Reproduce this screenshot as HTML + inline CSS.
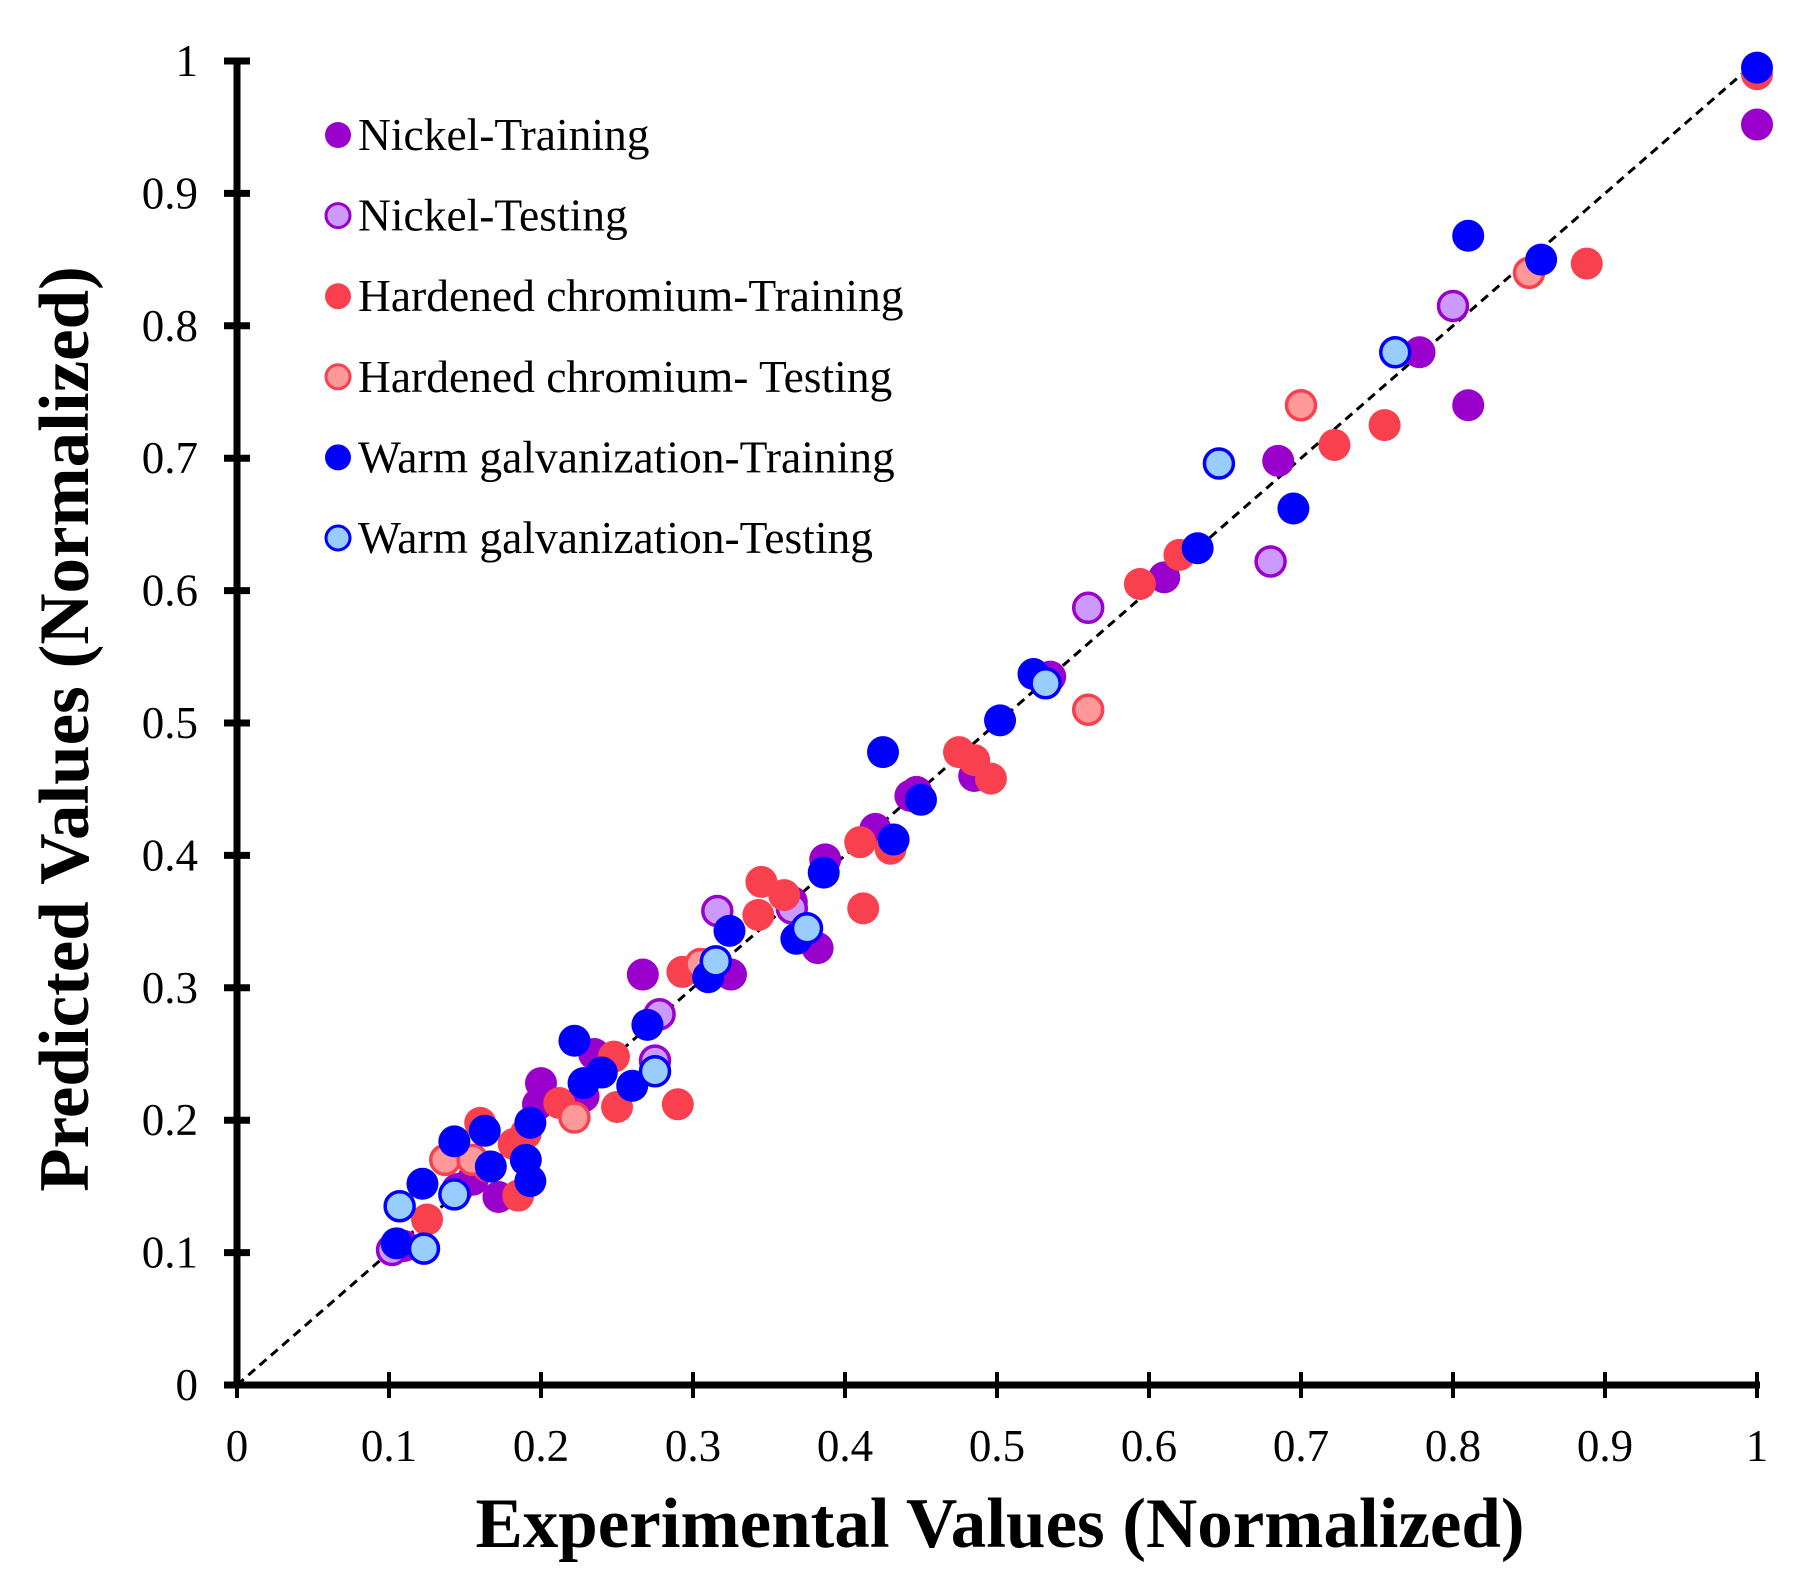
<!DOCTYPE html>
<html><head><meta charset="utf-8"><style>
html,body{margin:0;padding:0;background:#fff;}
svg{display:block;font-family:"Liberation Serif",serif;}
</style></head><body>
<svg id="chart" width="1805" height="1592" viewBox="0 0 1805 1592" xmlns="http://www.w3.org/2000/svg">
<rect width="1805" height="1592" fill="#fff"/>
<g id="grid"></g>
<g id="marks"></g>
<g id="legend"></g>
<text transform="translate(88,729) rotate(-90)" text-anchor="middle" font-size="71" font-weight="bold">Predicted Values (Normalized)</text>
<text x="1000" y="1547" text-anchor="middle" font-size="71" font-weight="bold">Experimental Values (Normalized)</text>
</svg>
<script>
const ticks=[0,0.1,0.2,0.3,0.4,0.5,0.6,0.7,0.8,0.9,1];
const tickLabels=["0","0.1","0.2","0.3","0.4","0.5","0.6","0.7","0.8","0.9","1"];
const seriesNames=["Nickel-Training","Nickel-Testing","Hardened chromium-Training","Hardened chromium- Testing","Warm galvanization-Training","Warm galvanization-Testing"];
const nickelTrainX=[1.0,0.81,0.778,0.685,0.61,0.535,0.485,0.447,0.443,0.42,0.387,0.382,0.325,0.267,0.235,0.228,0.2,0.198,0.172,0.155,0.11,0.103,0.145,0.365];
const nickelTrainY=[0.952,0.74,0.78,0.698,0.61,0.535,0.46,0.448,0.445,0.42,0.397,0.33,0.31,0.31,0.25,0.218,0.228,0.212,0.142,0.155,0.105,0.103,0.148,0.365];
const nickelTestX=[0.8,0.68,0.56,0.316,0.278,0.275,0.102,0.365];
const nickelTestY=[0.815,0.622,0.587,0.358,0.28,0.245,0.102,0.36];
const chromTrainX=[1.0,0.888,0.755,0.722,0.62,0.594,0.496,0.485,0.475,0.43,0.41,0.412,0.345,0.36,0.343,0.293,0.29,0.25,0.248,0.212,0.19,0.182,0.185,0.16,0.125,0.165];
const chromTrainY=[0.99,0.847,0.725,0.71,0.627,0.605,0.458,0.472,0.478,0.405,0.41,0.36,0.38,0.37,0.355,0.312,0.212,0.21,0.248,0.213,0.19,0.182,0.143,0.198,0.125,0.165];
const chromTestX=[0.85,0.7,0.56,0.305,0.222,0.137,0.155];
const chromTestY=[0.84,0.74,0.51,0.318,0.202,0.17,0.17];
const galvTrainX=[1.0,0.858,0.81,0.695,0.632,0.524,0.502,0.425,0.45,0.432,0.386,0.324,0.368,0.31,0.27,0.222,0.26,0.24,0.228,0.193,0.19,0.193,0.163,0.167,0.143,0.122,0.105];
const galvTrainY=[0.995,0.85,0.868,0.662,0.632,0.537,0.502,0.478,0.442,0.412,0.387,0.343,0.337,0.308,0.272,0.26,0.226,0.236,0.228,0.198,0.17,0.154,0.192,0.165,0.184,0.152,0.107];
const galvTestX=[0.762,0.646,0.532,0.375,0.315,0.275,0.107,0.143,0.123];
const galvTestY=[0.78,0.696,0.53,0.345,0.32,0.237,0.135,0.144,0.103];

const NS="http://www.w3.org/2000/svg";
const X0=237,X1=1757,Y0=1385,Y1=61;
function sx(v){return X0+(X1-X0)*v;}
function sy(v){return Y0-(Y0-Y1)*v;}
function mk(tag,attrs,parent){const e=document.createElementNS(NS,tag);for(const k in attrs)e.setAttribute(k,attrs[k]);parent.appendChild(e);return e;}
const grid=document.getElementById('grid'),marks=document.getElementById('marks'),legend=document.getElementById('legend');

const diag=mk('line',{x1:sx(0),y1:sy(0),x2:sx(1),y2:sy(1),stroke:'#000','stroke-width':3,'stroke-dasharray':'9,6'},grid);



const ya=mk('line',{x1:X0,y1:Y1,x2:X0,y2:Y0,stroke:'#000','stroke-width':7},grid);


const xa=mk('line',{x1:X0-3,y1:Y0,x2:X1+3,y2:Y0,stroke:'#000','stroke-width':7},grid);



ticks.forEach((t,i)=>{
  const yt=mk('line',{x1:X0-13,y1:sy(t),x2:X0+13,y2:sy(t),stroke:'#000','stroke-width':7},grid);
  
  
  const yl=mk('text',{x:198,y:sy(t)+15,'text-anchor':'end','font-size':45},grid);
  yl.textContent=tickLabels[i];
  
  
  const xt=mk('line',{x1:sx(t),y1:Y0-13,x2:sx(t),y2:Y0+13,stroke:'#000','stroke-width':4},grid);
  
  
  const xl=mk('text',{x:sx(t),y:1461,'text-anchor':'middle','font-size':45},grid);
  xl.textContent=tickLabels[i];
  
  
});

const styles=[
 {fill:'#9900CC',stroke:'none',sw:0},
 {fill:'#CC99FF',stroke:'#9900CC',sw:3.5},
 {fill:'#F8404E',stroke:'none',sw:0},
 {fill:'#FF9999',stroke:'#F8404E',sw:3.5},
 {fill:'#0000FF',stroke:'none',sw:0},
 {fill:'#99CCFF',stroke:'#0000FF',sw:3.5}];
const allX=[nickelTrainX,nickelTestX,chromTrainX,chromTestX,galvTrainX,galvTestX];
const allY=[nickelTrainY,nickelTestY,chromTrainY,chromTestY,galvTrainY,galvTestY];
const keys=['nickel-training','nickel-testing','chromium-training','chromium-testing','galvanization-training','galvanization-testing'];
allX.forEach((xs,s)=>{
  const st=styles[s];
  xs.forEach((xv,i)=>{
    const c=mk('circle',{cx:sx(xv),cy:sy(allY[s][i]),r:st.sw?14.5:16,fill:st.fill,stroke:st.stroke,'stroke-width':st.sw},marks);
    
    
  });
  const ly=135+s*80.6;
  const lc=mk('circle',{cx:338,cy:ly,r:st.sw?12:13,fill:st.fill,stroke:st.stroke,'stroke-width':st.sw?3:0},legend);
  
  
  const lt=mk('text',{x:358,y:ly+15,'font-size':45.5},legend);
  lt.textContent=seriesNames[s];
  
  
});
</script>
</body></html>
